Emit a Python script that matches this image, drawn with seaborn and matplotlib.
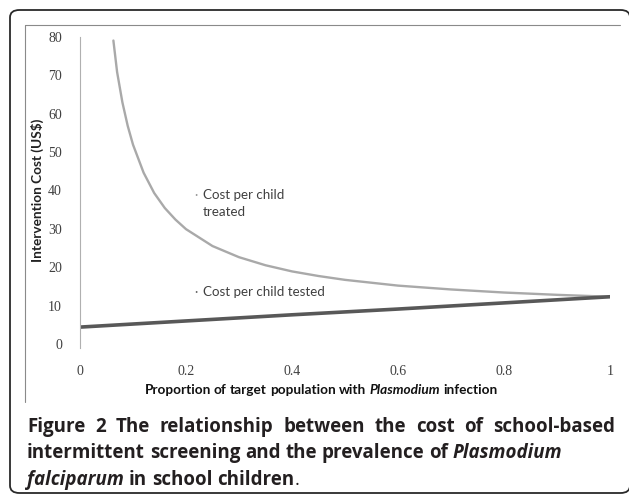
import numpy as np
import pandas as pd
import matplotlib
matplotlib.use("Agg")
import matplotlib.pyplot as plt
import seaborn as sns
from matplotlib.patches import FancyBboxPatch
from matplotlib.lines import Line2D

# values
prev_treated = [0.063, 0.07, 0.08, 0.09, 0.10, 0.12, 0.14, 0.16, 0.18, 0.20, 0.25,
                0.30, 0.35, 0.40, 0.45, 0.50, 0.60, 0.70, 0.80, 0.90, 1.00]
cost_treated = [79.0, 70.8, 62.9, 56.8, 51.9, 44.6, 39.3, 35.4, 32.4, 29.9, 25.5,
                22.6, 20.5, 18.9, 17.7, 16.7, 15.2, 14.2, 13.4, 12.8, 12.3]
prev_tested = [0.0, 0.2, 0.4, 0.6, 0.8, 1.0]
cost_tested = [4.4, 6.0, 7.6, 9.1, 10.7, 12.3]

x_ticks = [0, 0.2, 0.4, 0.6, 0.8, 1]
x_ticklabels = ["0", "0.2", "0.4", "0.6", "0.8", "1"]
y_ticks = [0, 10, 20, 30, 40, 50, 60, 70, 80]

treated = pd.DataFrame({"p": prev_treated, "cost": cost_treated})
tested = pd.DataFrame({"p": prev_tested, "cost": cost_tested})

sns.set_style("white")
plt.rcParams["font.family"] = ["Lato", "DejaVu Sans"]

W, H = 629, 496
fig = plt.figure(figsize=(W / 100, H / 100), dpi=100)
fig.patch.set_facecolor("white")

def fx(px):
    return px / W

def fy(py):
    return 1 - py / H

# axes placed so 0..1 spans px 80..610 and 0..80 spans px 344..36.7
ax = fig.add_axes([fx(80), fy(344), (610 - 80) / W, (344 - 36.7) / H])
ax.set_facecolor("none")

sns.lineplot(data=treated, x="p", y="cost", ax=ax, color="#a9a9a9", lw=1.7)
sns.lineplot(data=tested, x="p", y="cost", ax=ax, color="#585858", lw=2.6)

ax.set_xlim(0, 1)
ax.set_ylim(0, 80)
ax.set_xticks(x_ticks)
ax.set_xticklabels(x_ticklabels)
ax.set_yticks(y_ticks)
ax.set_xlabel("")
ax.set_ylabel("")
for s in ["top", "right"]:
    ax.spines[s].set_visible(False)
ax.spines["bottom"].set_position(("outward", 1))
ax.spines["bottom"].set_visible(False)
ax.spines["left"].set_color("#b0b0b0")
ax.spines["left"].set_linewidth(0.8)
ax.spines["left"].set_bounds(-1, 80)
ax.tick_params(axis="both", direction="out", length=4, width=0.8, color="#b0b0b0",
               labelsize=10, labelcolor="#404040")
ax.tick_params(axis="x", pad=10)
ax.tick_params(axis="y", pad=9)
for lab in ax.get_xticklabels() + ax.get_yticklabels():
    lab.set_fontfamily(["Liberation Serif", "DejaVu Serif"])

# series labels next to the curves
lab_kw = dict(fontsize=9.6, color="#404040", va="center", ha="left")
ax.text(0.2185, 38.8, "·", color="#999999", fontsize=9, va="center", ha="center")
ax.text(0.232, 38.8, "Cost per child", **lab_kw)
ax.text(0.232, 34.4, "treated", **lab_kw)
ax.text(0.2185, 13.5, "·", color="#666666", fontsize=9, va="center", ha="center")
ax.text(0.232, 13.5, "Cost per child tested", **lab_kw)

ax.text(-0.081, 40, "Intervention Cost (US$)", rotation=90, fontsize=9.8,
        fontweight="bold", color="#222222", ha="center", va="center",
        transform=ax.transData)

renderer = fig.canvas.get_renderer()

def width_of(s, size, weight, style, family):
    t = fig.text(0, 0, s, fontsize=size, fontweight=weight, fontstyle=style, family=family)
    w = t.get_window_extent(renderer).width
    t.remove()
    return w

def runs(x_px, y_px, parts, size, color, family, center=False, justify=None):
    # lay out words one by one so mixed bold / italic runs line up
    tokens = []
    for s, weight, style in parts:
        words = s.split(" ")
        for i, wd in enumerate(words):
            if wd == "":
                if tokens:
                    tokens[-1][3] = True
                continue
            tokens.append([wd, weight, style, i < len(words) - 1])
    space = (width_of("a a", size, "bold", "normal", family)
             - width_of("aa", size, "bold", "normal", family))
    objs, widths = [], []
    for wd, weight, style, _ in tokens:
        t = fig.text(0, fy(y_px), wd, fontsize=size, fontweight=weight, fontstyle=style,
                     color=color, va="baseline", ha="left", family=family)
        objs.append(t)
        widths.append(t.get_window_extent(renderer).width)
    n_gaps = sum(1 for tk in tokens[:-1] if tk[3])
    natural = sum(widths) + n_gaps * space
    gap = space
    if justify is not None and n_gaps:
        gap = space + (justify - natural) / n_gaps
    x = x_px - natural / 2 if center else x_px
    for o, w, tk in zip(objs, widths, tokens):
        o.set_x(fx(x))
        x += w + (gap if tk[3] else 0)

lato = ["Lato", "DejaVu Sans"]
runs(321, 394, [("Proportion of target population with ", "bold", "normal"),
                ("Plasmodium", "bold", "italic"),
                (" infection", "bold", "normal")], 9.8, "#111111", lato, center=True)

cap = "#231f20"
cs = 13.5
opens = ["Open Sans", "DejaVu Sans"]
runs(27, 432, [("Figure 2 The relationship between the cost of school-based", "bold", "normal")],
     cs, cap, opens, justify=588)
runs(27, 458, [("intermittent screening and the prevalence of ", "bold", "normal"),
               ("Plasmodium", "bold", "italic")], cs, cap, opens)
runs(27, 485, [("falciparum", "bold", "italic"),
               (" in school children", "bold", "normal"),
               (".", "normal", "normal")], cs, cap, opens)

# outer rounded frame and the clipped chart border
fig.patches.append(FancyBboxPatch((fx(10), fy(493)), fx(630 - 10), (493 - 10) / H,
                                  boxstyle="round,pad=0,rounding_size=0.015",
                                  transform=fig.transFigure, fill=False,
                                  edgecolor="#2a2a2a", lw=1.3))
fig.lines.append(Line2D([fx(25), fx(620)], [fy(25), fy(25)], transform=fig.transFigure,
                        color="#8a8a8a", lw=0.8))
fig.lines.append(Line2D([fx(25), fx(25)], [fy(25), fy(402)], transform=fig.transFigure,
                        color="#8a8a8a", lw=0.8))

fig.savefig("out.png", dpi=100)
